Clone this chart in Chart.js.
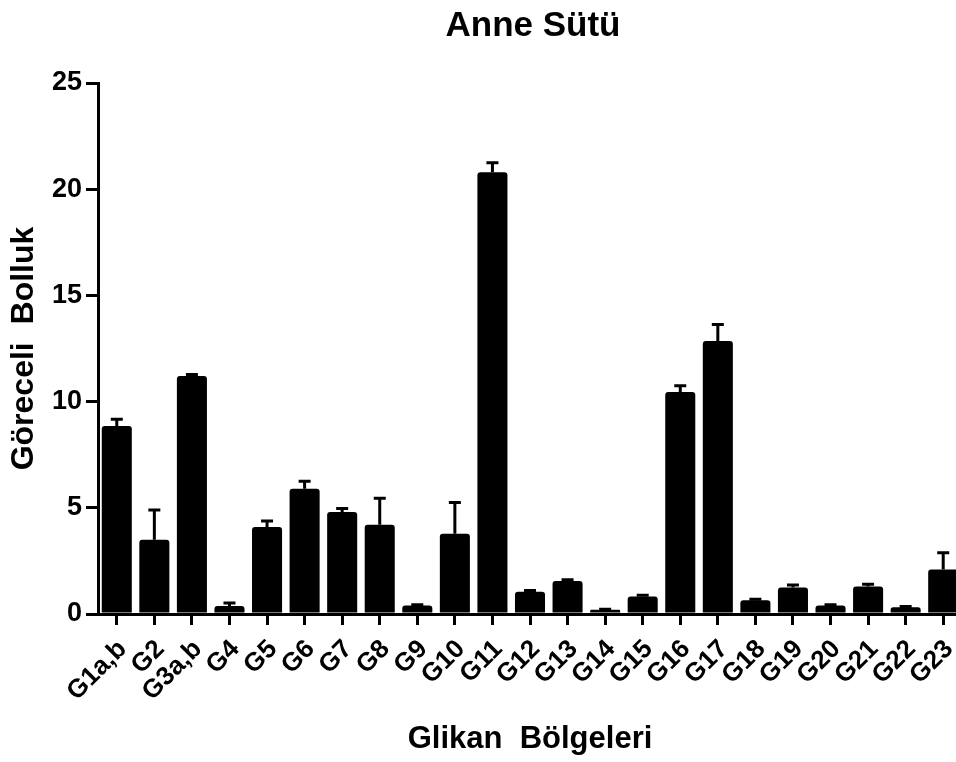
<!DOCTYPE html>
<html>
<head>
<meta charset="utf-8">
<script src="https://cdn.jsdelivr.net/npm/chart.js@4.4.0/dist/chart.umd.min.js"></script>
<style>
  html, body { margin: 0; padding: 0; background: #fff; overflow: hidden; }
</style>
</head>
<body>
<canvas id="chart" width="962" height="762"></canvas>
<script>
const titleText = 'Anne Sütü';
const xTitle = 'Glikan  Bölgeleri';
const yTitle = 'Göreceli  Bolluk';

const labels = ['G1a,b', 'G2', 'G3a,b', 'G4', 'G5', 'G6', 'G7', 'G8', 'G9', 'G10', 'G11', 'G12',
  'G13', 'G14', 'G15', 'G16', 'G17', 'G18', 'G19', 'G20', 'G21', 'G22', 'G23'];
const means = [8.85, 3.5, 11.2, 0.38, 4.1, 5.9, 4.8, 4.2, 0.4, 3.78, 20.8, 1.05,
  1.55, 0.2, 0.82, 10.45, 12.85, 0.65, 1.25, 0.4, 1.3, 0.32, 2.1];
const errors = [0.32, 1.4, 0.08, 0.14, 0.28, 0.35, 0.17, 1.25, 0.04, 1.47, 0.45, 0.06,
  0.06, 0.02, 0.06, 0.3, 0.78, 0.04, 0.12, 0.03, 0.1, 0.03, 0.78];
const yTicks = [0, 5, 10, 15, 20, 25];

const FONT = "'Liberation Sans', Arial, sans-serif";

// upward-only error bars, drawn from the y scale
const errorBars = {
  id: 'errorBars',
  afterDatasetsDraw(chart) {
    const ctx = chart.ctx;
    const yScale = chart.scales.y;
    const meta = chart.getDatasetMeta(0);
    ctx.save();
    ctx.strokeStyle = '#000';
    ctx.lineWidth = 3;
    meta.data.forEach((bar, i) => {
      const top = yScale.getPixelForValue(means[i] + errors[i]);
      ctx.beginPath();
      ctx.moveTo(bar.x, bar.y);
      ctx.lineTo(bar.x, top);
      ctx.moveTo(bar.x - 6, top);
      ctx.lineTo(bar.x + 6, top);
      ctx.stroke();
    });
    ctx.restore();
  }
};

// title centred over the plot area, not the whole canvas
const areaTitle = {
  id: 'areaTitle',
  afterDraw(chart) {
    const ctx = chart.ctx;
    const a = chart.chartArea;
    ctx.save();
    ctx.font = 'bold 35px ' + FONT;
    ctx.fillStyle = '#000';
    ctx.textAlign = 'center';
    ctx.textBaseline = 'alphabetic';
    ctx.fillText(titleText, (a.left + a.right) / 2 + 3, 36);
    ctx.restore();
  }
};

new Chart(document.getElementById('chart'), {
  type: 'bar',
  data: {
    labels: labels,
    datasets: [{
      data: means,
      backgroundColor: '#000',
      borderColor: '#000',
      borderWidth: 0,
      borderRadius: 3,
      borderSkipped: 'bottom',
      categoryPercentage: 1,
      barPercentage: 0.8
    }]
  },
  options: {
    responsive: false,
    animation: false,
    layout: { padding: { top: 83, right: 0, bottom: 0, left: 0 } },
    plugins: {
      legend: { display: false },
      tooltip: { enabled: false }
    },
    scales: {
      x: {
        afterFit: (scale) => {
          scale.height = 148;
          scale.paddingLeft = 0;
          scale.paddingRight = 0;
        },
        grid: {
          offset: false,
          drawOnChartArea: false,
          drawTicks: true,
          tickLength: 11,
          lineWidth: 3,
          color: '#000'
        },
        border: { display: true, width: 3, color: '#000' },
        ticks: {
          autoSkip: false,
          minRotation: 45,
          maxRotation: 45,
          padding: 9,
          labelOffset: 6,
          color: '#000',
          font: { family: FONT, size: 26, weight: 'bold' }
        },
        title: {
          display: true,
          text: xTitle,
          color: '#000',
          padding: { top: 0, bottom: 4 },
          font: { family: FONT, size: 31, weight: 'bold' }
        }
      },
      y: {
        min: 0,
        max: 25,
        afterFit: (scale) => { scale.width = 98; },
        afterBuildTicks: (scale) => { scale.ticks = yTicks.map(v => ({ value: v })); },
        grid: {
          drawOnChartArea: false,
          drawTicks: true,
          tickLength: 12,
          lineWidth: 3,
          color: '#000'
        },
        border: { display: true, width: 3, color: '#000' },
        ticks: {
          padding: 4,
          color: '#000',
          font: { family: FONT, size: 27, weight: 'bold' }
        },
        title: {
          display: true,
          text: yTitle,
          color: '#000',
          padding: { top: 5, bottom: 0 },
          font: { family: FONT, size: 32, weight: 'bold' }
        }
      }
    }
  },
  plugins: [errorBars, areaTitle]
});
</script>
</body>
</html>
